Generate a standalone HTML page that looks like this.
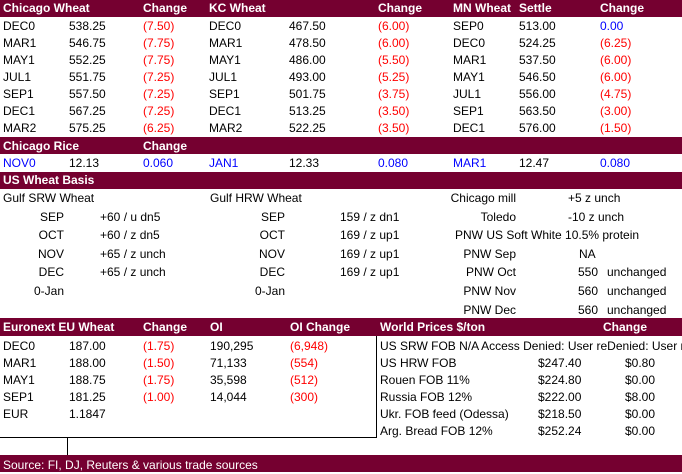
<!DOCTYPE html>
<html><head><meta charset="utf-8"><style>
html,body{margin:0;padding:0;background:#fff;}
#root{position:relative;width:682px;height:474px;overflow:hidden;font-family:"Liberation Sans",Arial,sans-serif;font-size:12px;color:#000;}
.bar{position:absolute;left:0;width:682px;background:#750030;}
.t{position:absolute;line-height:16px;height:16px;white-space:nowrap;}
.h{color:#fff;font-weight:bold;}
.r{color:#ff0000;}
.b{color:#0000ff;}
.line{position:absolute;background:#000;}
</style></head><body>
<div id="root">
<div class="bar" style="top:0;height:17px"></div>
<div class="bar" style="top:137px;height:17px"></div>
<div class="bar" style="top:172px;height:17px"></div>
<div class="bar" style="top:318px;height:18px"></div>
<div class="bar" style="top:455px;height:17px"></div>
<div class="line" style="left:0;top:437px;width:377px;height:1px"></div>
<div class="line" style="left:376px;top:336px;width:1px;height:102px"></div>
<div class="line" style="left:67px;top:438px;width:1px;height:17px"></div>
</div>
<script>
const chiMonths=["DEC0","MAR1","MAY1","JUL1","SEP1","DEC1","MAR2"];
const chiPrice=["538.25","546.75","552.25","551.75","557.50","567.25","575.25"];
const chiChg=["(7.50)","(7.75)","(7.75)","(7.25)","(7.25)","(7.25)","(6.25)"];
const kcMonths=["DEC0","MAR1","MAY1","JUL1","SEP1","DEC1","MAR2"];
const kcPrice=["467.50","478.50","486.00","493.00","501.75","513.25","522.25"];
const kcChg=["(6.00)","(6.00)","(5.50)","(5.25)","(3.75)","(3.50)","(3.50)"];
const mnMonths=["SEP0","DEC0","MAR1","MAY1","JUL1","SEP1","DEC1"];
const mnPrice=["513.00","524.25","537.50","546.50","556.00","563.50","576.00"];
const mnChg=["0.00","(6.25)","(6.00)","(6.00)","(4.75)","(3.00)","(1.50)"];
const euMonths=["DEC0","MAR1","MAY1","SEP1"];
const euPrice=["187.00","188.00","188.75","181.25"];
const euChg=["(1.75)","(1.50)","(1.75)","(1.00)"];
const euOI=["190,295","71,133","35,598","14,044"];
const euOIChg=["(6,948)","(554)","(512)","(300)"];
const wLabels=["US HRW FOB","Rouen FOB 11%","Russia FOB 12%","Ukr. FOB feed (Odessa)","Arg. Bread FOB 12%"];
const wPrice=["$247.40","$224.80","$222.00","$218.50","$252.24"];
const wChg=["$0.80","$0.00","$8.00","$0.00","$0.00"];
const root=document.getElementById('root');
function t(x,cy,txt,cls,name,right){
  const el=document.createElement('div');
  el.className='t '+(cls||'');
  el.textContent=txt;
  el.style.top=(cy-8)+'px';
  if(right){el.style.right=(682-x)+'px';}else{el.style.left=x+'px';}
  
  
  root.appendChild(el);
}
const rowY=[26,43,60,77,94,111,128];
t(3,8,"Chicago Wheat","h","chicago-wheat-header");
t(143,8,"Change","h","chicago-change-header");
t(209,8,"KC Wheat","h","kc-wheat-header");
t(378,8,"Change","h","kc-change-header");
t(453,8,"MN Wheat","h","mn-wheat-header");
t(519,8,"Settle","h","mn-settle-header");
t(600,8,"Change","h","mn-change-header");
for(let i=0;i<7;i++){
  t(3,rowY[i],chiMonths[i],"","chicago-month");
  t(69,rowY[i],chiPrice[i],"","chicago-price");
  t(143,rowY[i],chiChg[i],"r","chicago-change");
  t(209,rowY[i],kcMonths[i],"","kc-month");
  t(289,rowY[i],kcPrice[i],"","kc-price");
  t(378,rowY[i],kcChg[i],"r","kc-change");
  t(453,rowY[i],mnMonths[i],"","mn-month");
  t(519,rowY[i],mnPrice[i],"","mn-price");
  t(600,rowY[i],mnChg[i],mnChg[i][0]=="("?"r":"b","mn-change");
}
t(3,146,"Chicago Rice","h","chicago-rice-header");
t(143,146,"Change","h","rice-change-header");
t(3,163,"NOV0","b","rice-month");
t(69,163,"12.13","","rice-price");
t(143,163,"0.060","b","rice-change");
t(209,163,"JAN1","b","rice-month");
t(289,163,"12.33","","rice-price");
t(378,163,"0.080","b","rice-change");
t(453,163,"MAR1","b","rice-month");
t(519,163,"12.47","","rice-price");
t(600,163,"0.080","b","rice-change");
t(3,180,"US Wheat Basis","h","us-wheat-basis-header");
t(3,198,"Gulf SRW Wheat","","gulf-srw-label");
t(210,198,"Gulf HRW Wheat","","gulf-hrw-label");
const bm=["SEP","OCT","NOV","DEC","0-Jan"];
const srw=["+60 / u  dn5","+60 / z  dn5","+65 / z  unch","+65 / z  unch",""];
const hrw=["159 / z  dn1","169 / z  up1","169 / z  up1","169 / z  up1",""];
const by=[217,235,254,272,291];
for(let i=0;i<5;i++){
  t(64,by[i],bm[i],"","srw-month",true);
  t(100,by[i],srw[i],"","srw-basis");
  t(285,by[i],bm[i],"","hrw-month",true);
  t(340,by[i],hrw[i],"","hrw-basis");
}
t(516,198,"Chicago mill","","chicago-mill-label",true);
t(568,198,"+5 z unch","","chicago-mill-basis");
t(516,217,"Toledo","","toledo-label",true);
t(568,217,"-10 z unch","","toledo-basis");
t(455,235,"PNW US Soft White 10.5% protein","","pnw-label");
const pl=["PNW Sep","PNW Oct","PNW Nov","PNW Dec"];
const pv=["NA","550","560","560"];
const py=[254,272,291,310];
for(let i=0;i<4;i++){
  t(516,py[i],pl[i],"","pnw-month",true);
  if(i==0){t(579,py[i],pv[i],"","pnw-price");}
  else{t(598,py[i],pv[i],"","pnw-price",true);t(607,py[i],"unchanged","","pnw-change");}
}
t(3,327,"Euronext EU Wheat","h","euronext-header");
t(143,327,"Change","h","euronext-change-header");
t(210,327,"OI","h","euronext-oi-header");
t(290,327,"OI Change","h","euronext-oi-change-header");
t(380,327,"World Prices $/ton","h","world-prices-header");
t(603,327,"Change","h","world-change-header");
const ey=[346,363,380,397,414,431];
for(let i=0;i<4;i++){
  t(3,ey[i],euMonths[i],"","euronext-month");
  t(69,ey[i],euPrice[i],"","euronext-price");
  t(143,ey[i],euChg[i],"r","euronext-change");
  t(210,ey[i],euOI[i],"","euronext-oi");
  t(290,ey[i],euOIChg[i],"r","euronext-oi-change");
}
t(3,414,"EUR","","eur-label");
t(69,414,"1.1847","","eur-rate");
t(380,346,"US SRW FOB  N/A Access Denied: User reDenied: User re","","us-srw-fob");
for(let i=0;i<5;i++){
  t(380,ey[i+1],wLabels[i],"","world-label");
  t(538,ey[i+1],wPrice[i],"","world-price");
  t(625,ey[i+1],wChg[i],"","world-change");
}
t(3,465,"Source: FI, DJ, Reuters & various trade sources","h","source-note");
document.querySelector('.t.h:last-child').style.fontWeight='normal';
</script>
</body></html>
